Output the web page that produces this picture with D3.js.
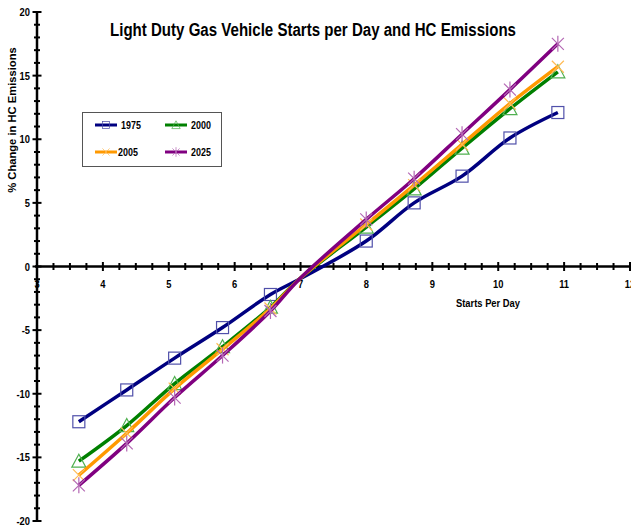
<!DOCTYPE html>
<html>
<head>
<meta charset="utf-8">
<script src="https://cdn.jsdelivr.net/npm/d3@7"></script>
<style>
  body { margin: 0; background: #fff; }
  text { font-family: "Liberation Sans", Arial, sans-serif; font-weight: bold; }
</style>
</head>
<body>
<div id="chart"></div>
<script>
// starts per day (x) - 50% .. 150% of the 7.27 base, plus the point where the lines meet
const startsPerDay = [3.635, 4.362, 5.089, 5.816, 6.543, 6.98, 7.997, 8.724, 9.451, 10.178, 10.905];
const hasMarker    = [1, 1, 1, 1, 1, 0, 1, 1, 1, 1, 1];

const hc1975 = [-12.2, -9.7, -7.2, -4.8, -2.2, -1.0, 2.0, 5.0, 7.1, 10.1, 12.1];
const hc2000 = [-15.3, -12.5, -9.2, -6.3, -3.2, -1.0, 3.1, 6.1, 9.3, 12.4, 15.3];
const hc2005 = [-16.4, -13.1, -9.6, -6.5, -3.3, -1.0, 3.3, 6.4, 9.6, 12.8, 15.7];
const hc2025 = [-17.2, -13.9, -10.3, -7.0, -3.5, -1.0, 3.7, 6.9, 10.4, 13.9, 17.5];

const seriesNames = ["1975", "2000", "2005", "2025"];
const xTicks = [3, 4, 5, 6, 7, 8, 9, 10, 11, 12];
const yTicks = [-20, -15, -10, -5, 0, 5, 10, 15, 20];

const width = 631;
const height = 527;

const series = [
  { name: "1975", values: hc1975, color: "#000080", mark: "#5050aa", shape: "square" },
  { name: "2000", values: hc2000, color: "#008000", mark: "#50b050", shape: "triangle" },
  { name: "2005", values: hc2005, color: "#ff9900", mark: "#ffbb55", shape: "x" },
  { name: "2025", values: hc2025, color: "#800080", mark: "#b468b4", shape: "star" }
];

const svg = d3.select("#chart")
  .append("svg")
  .attr("width", width)
  .attr("height", height);

const x = d3.scaleLinear().domain([3, 12]).range([37, 630]);
const y = d3.scaleLinear().domain([-20, 20]).range([521, 12]);

// narrow-looking text: squeeze horizontally
function label(g, tx, ty, str, size, anchor, sx) {
  return g.append("text")
    .attr("transform", `translate(${tx},${ty}) scale(${sx},1)`)
    .attr("text-anchor", anchor)
    .attr("font-size", size)
    .text(str);
}

// title
svg.append("text")
  .attr("x", 110)
  .attr("y", 36)
  .attr("font-size", 17.5)
  .attr("textLength", 406)
  .attr("lengthAdjust", "spacingAndGlyphs")
  .text("Light Duty Gas Vehicle Starts per Day and HC Emissions");

// axes
const axes = svg.append("g").attr("stroke", "#000");

axes.append("line")
  .attr("x1", x(3) - 2).attr("x2", width)
  .attr("y1", y(0)).attr("y2", y(0))
  .attr("stroke-width", 2.5);

axes.append("line")
  .attr("x1", x(3)).attr("x2", x(3))
  .attr("y1", y(20)).attr("y2", y(-20))
  .attr("stroke-width", 2.5);

axes.selectAll(".xt")
  .data(d3.range(3.25, 12.01, 0.25))
  .join("line")
  .attr("x1", d => x(d)).attr("x2", d => x(d))
  .attr("y1", d => y(0) - (Math.abs(d - Math.round(d)) < 0.01 ? 4.5 : 3.5))
  .attr("y2", d => y(0) + (Math.abs(d - Math.round(d)) < 0.01 ? 4.5 : 3.5))
  .attr("stroke-width", 2);

axes.selectAll(".yt")
  .data(d3.range(-20, 21, 1))
  .join("line")
  .attr("x1", d => x(3) - (d % 5 === 0 ? 4.5 : 3))
  .attr("x2", d => x(3) + (d % 5 === 0 ? 4.5 : 3))
  .attr("y1", d => y(d)).attr("y2", d => y(d))
  .attr("stroke-width", 2);

xTicks.forEach(d => label(svg, x(d), y(0) + 21, d, 11, "middle", 0.85));
yTicks.forEach(d => label(svg, 30, y(d) + 4, d, 11, "end", 0.85));

svg.append("text")
  .attr("x", 456)
  .attr("y", 307)
  .attr("font-size", 10.5)
  .attr("textLength", 64)
  .attr("lengthAdjust", "spacingAndGlyphs")
  .text("Starts Per Day");

svg.append("text")
  .attr("transform", "translate(16,120) rotate(-90)")
  .attr("text-anchor", "middle")
  .attr("font-size", 11.2)
  .text("% Change in HC Emissions");

// markers
function drawMarker(g, shape, color, cx, cy) {
  const m = g.append("g").attr("fill", "none").attr("stroke", color).attr("stroke-width", 1.2);
  if (shape === "square") {
    m.append("rect").attr("x", cx - 6).attr("y", cy - 6).attr("width", 12).attr("height", 12);
  } else if (shape === "triangle") {
    m.append("path").attr("d", `M${cx},${cy - 7}L${cx + 7},${cy + 6}L${cx - 7},${cy + 6}Z`);
  } else {
    m.append("path").attr("d", `M${cx - 6},${cy - 6}L${cx + 6},${cy + 6}M${cx + 6},${cy - 6}L${cx - 6},${cy + 6}`);
    if (shape === "star") {
      m.append("path").attr("d", `M${cx},${cy - 8}L${cx},${cy + 8}`);
    }
  }
}

const line = d3.line()
  .x((d, i) => x(startsPerDay[i]))
  .y(d => y(d))
  .curve(d3.curveCatmullRom);

series.forEach(s => {
  const g = svg.append("g");
  g.append("path")
    .attr("d", line(s.values))
    .attr("fill", "none")
    .attr("stroke", s.color)
    .attr("stroke-width", 3.5);
  s.values.forEach((v, i) => {
    if (hasMarker[i]) drawMarker(g, s.shape, s.mark, x(startsPerDay[i]), y(v));
  });
});

// legend
const legend = svg.append("g");
legend.append("rect")
  .attr("x", 82.5).attr("y", 112.5)
  .attr("width", 139).attr("height", 54)
  .attr("fill", "#fff")
  .attr("stroke", "#555")
  .attr("stroke-width", 1);

const legendPos = [[95, 125], [165, 125], [95, 152], [165, 152]];
series.forEach((s, i) => {
  const [lx, ly] = legendPos[i];
  legend.append("line")
    .attr("x1", lx).attr("x2", lx + 22)
    .attr("y1", ly).attr("y2", ly)
    .attr("stroke", s.color)
    .attr("stroke-width", 3);
  const mk = legend.append("g").attr("transform", `translate(${lx + 11},${ly}) scale(0.6)`);
  drawMarker(mk, s.shape, s.mark, 0, 0);
  label(legend, lx + (s.name === "2005" ? 23 : 26), ly + 4, seriesNames[i], 10.5, "start", 0.85);
});
</script>
</body>
</html>
